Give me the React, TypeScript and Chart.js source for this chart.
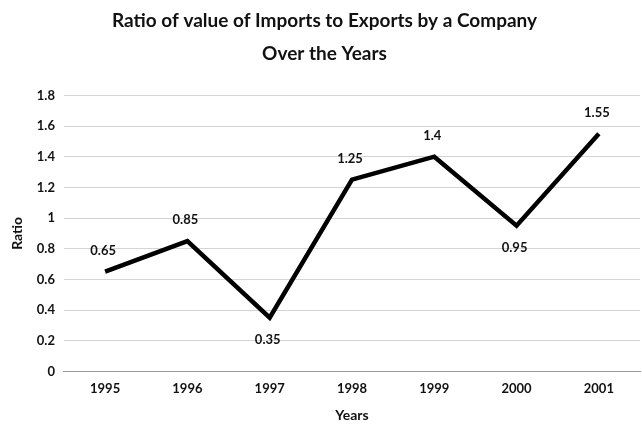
import React, { useEffect, useRef } from "react";
import { Chart, registerables } from "chart.js";

Chart.register(...registerables);

const years = ["1995", "1996", "1997", "1998", "1999", "2000", "2001"];
const ratios = [0.65, 0.85, 0.35, 1.25, 1.4, 0.95, 1.55];
const labelBelow = [false, false, true, false, false, true, false];
const titleLines = ["Ratio of value of Imports to Exports by a Company", "Over the Years"];
const yTitle = "Ratio";
const xTitle = "Years";

const FONT = "Lato, 'Open Sans', sans-serif";

const dataLabelPlugin = {
  id: "dataLabels",
  afterDatasetsDraw(chart: any) {
    const ctx = chart.ctx;
    const meta = chart.getDatasetMeta(0);
    ctx.save();
    ctx.font = `bold 13px ${FONT}`;
    ctx.fillStyle = "#111";
    ctx.textAlign = "center";
    ctx.textBaseline = "middle";
    meta.data.forEach((pt: any, i: number) => {
      const dy = labelBelow[i] ? 22 : -21;
      ctx.fillText(String(ratios[i]), pt.x - 2, pt.y + dy);
    });
    ctx.restore();
  },
};

export default function App() {
  const ref = useRef<HTMLCanvasElement | null>(null);
  useEffect(() => {
    if (!ref.current) return;
    const chart = new Chart(ref.current, {
      type: "line",
      data: {
        labels: years,
        datasets: [
          {
            data: ratios,
            borderColor: "#000",
            borderWidth: 4.5,
            pointRadius: 0,
            tension: 0,
            fill: false,
          },
        ],
      },
      options: {
        responsive: false,
        animation: false,
        layout: { padding: { left: 9, right: 2, top: 0, bottom: 0 } },
        plugins: {
          legend: { display: false },
          tooltip: { enabled: false },
          title: {
            display: true,
            text: titleLines,
            color: "#111",
            font: { family: FONT, size: 19, weight: "bold", lineHeight: 1.72 },
            padding: { top: 5, bottom: 25 },
          },
        },
        scales: {
          x: {
            type: "category",
            offset: true,
            grid: { display: false, drawTicks: false },
            border: { display: true, color: "#999", width: 1 },
            ticks: {
              color: "#111",
              font: { family: FONT, size: 13, weight: "bold" },
              padding: 10,
              maxRotation: 0,
            },
            title: {
              display: true,
              text: xTitle,
              color: "#111",
              font: { family: FONT, size: 14, weight: "bold", lineHeight: 1.0 },
              padding: { top: 1, bottom: 2 },
            },
          },
          y: {
            min: 0,
            max: 1.8,
            ticks: {
              stepSize: 0.2,
              color: "#111",
              font: { family: FONT, size: 13, weight: "bold" },
              padding: 9,
              callback: (v: any) => String(+Number(v).toFixed(1)),
            },
            grid: { color: "#d4d4d4", lineWidth: 1, drawTicks: false },
            border: { display: false },
            title: {
              display: true,
              text: yTitle,
              color: "#111",
              font: { family: FONT, size: 14, weight: "bold" },
              padding: { top: 0, bottom: 2 },
            },
          },
        },
      },
      plugins: [dataLabelPlugin],
    });
    return () => chart.destroy();
  }, []);
  return (
    <div style={{ position: "fixed", left: 0, top: 0, width: 642, height: 424, background: "#fff" }}>
      <canvas ref={ref} width={642} height={424} style={{ width: 642, height: 424 }} />
    </div>
  );
}
